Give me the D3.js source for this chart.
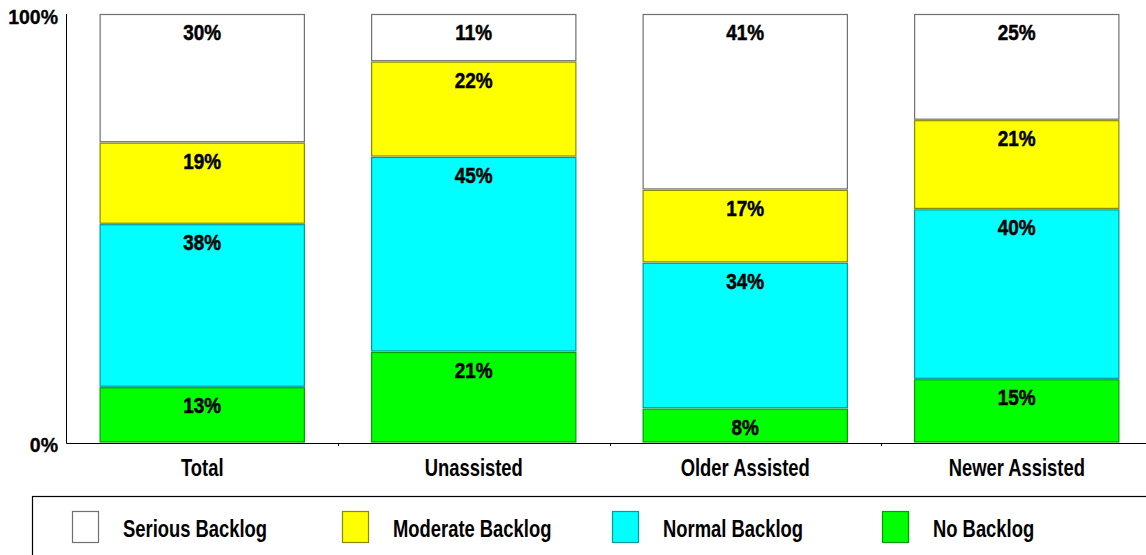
<!DOCTYPE html>
<html><head><meta charset="utf-8">
<script src="https://cdn.jsdelivr.net/npm/d3@7"></script>
<style>body{margin:0;background:#fff}svg{display:block}</style>
</head><body><svg id="c" width="1146" height="555"></svg>
<script>
const categories = ["Total", "Unassisted", "Older Assisted", "Newer Assisted"];
const seriesNames = ["No Backlog", "Normal Backlog", "Moderate Backlog", "Serious Backlog"];
const noBacklog = [13, 21, 8, 15];
const normalBacklog = [38, 45, 34, 40];
const moderateBacklog = [19, 22, 17, 21];
const seriousBacklog = [30, 11, 41, 25];
const yTicks = [0, 1];
const yTickLabels = ["0%", "100%"];
const legendOrder = ["Serious Backlog", "Moderate Backlog", "Normal Backlog", "No Backlog"];

const fills = {"No Backlog": "#00ff00", "Normal Backlog": "#00ffff", "Moderate Backlog": "#ffff00", "Serious Backlog": "#ffffff"};
const strokes = {"No Backlog": "#00a000", "Normal Backlog": "#009a9a", "Moderate Backlog": "#8a8a00", "Serious Backlog": "#707070"};

const rows = categories.map((c, i) => ({
  cat: c,
  "No Backlog": noBacklog[i],
  "Normal Backlog": normalBacklog[i],
  "Moderate Backlog": moderateBacklog[i],
  "Serious Backlog": seriousBacklog[i]
}));

const svg = d3.select("#c");
const x0 = 66.5, step = 271.5;
const x = d3.scaleBand().domain(categories).range([x0, x0 + step * 4]).paddingInner(0.244).paddingOuter(0.122);
const y = d3.scaleLinear().domain([0, 1]).range([443, 14]);

const stack = d3.stack().keys(seriesNames).offset(d3.stackOffsetExpand);
const layers = stack(rows);

const FONT = "'Liberation Sans', Arial, sans-serif";

// bars
const g = svg.append("g");
layers.forEach(layer => {
  const key = layer.key;
  g.selectAll(null).data(layer).enter().append("rect")
    .attr("x", d => x(d.data.cat) + 0.5)
    .attr("y", d => y(d[1]) + 0.5)
    .attr("width", x.bandwidth() - 1)
    .attr("height", d => Math.max(0, y(d[0]) - y(d[1]) - 1.5))
    .attr("fill", fills[key])
    .attr("stroke", strokes[key])
    .attr("stroke-width", 1.2);
});
// value labels
layers.forEach(layer => {
  const key = layer.key;
  g.selectAll(null).data(layer).enter().append("text")
    .attr("transform", d => `translate(${x(d.data.cat) + x.bandwidth() / 2},${y(d[1]) + 26}) scale(0.86,1)`)
    .attr("text-anchor", "middle")
    .attr("font-family", FONT)
    .attr("font-weight", "bold")
    .attr("font-size", 22)
    .attr("fill", "#000")
    .attr("stroke", "#000")
    .attr("stroke-width", 0.5)
    .text(d => d.data[key] + "%");
});

// axes lines
svg.append("line").attr("x1", x0).attr("x2", x0).attr("y1", 14).attr("y2", 443.5)
  .attr("stroke", "#000").attr("stroke-width", 1);
svg.append("line").attr("x1", x0).attr("x2", 1146).attr("y1", 443.5).attr("y2", 443.5)
  .attr("stroke", "#000").attr("stroke-width", 1.2);

// category boundary ticks
const bounds = categories.slice(1).map(c => x(c) - (x.step() - x.bandwidth()) / 2);
svg.selectAll(null).data(bounds).enter().append("line")
  .attr("x1", d => Math.round(d) + 0.5).attr("x2", d => Math.round(d) + 0.5)
  .attr("y1", 443).attr("y2", 446).attr("stroke", "#000");

// y tick labels
svg.selectAll(null).data(yTicks).enter().append("text")
  .attr("x", 58).attr("y", d => y(d) + (d === 0 ? 9 : 9.5))
  .attr("text-anchor", "end")
  .attr("font-family", FONT).attr("font-weight", "bold").attr("font-size", 19.5)
  .attr("stroke", "#000").attr("stroke-width", 0.3)
  .text((d, i) => yTickLabels[i]);

// category labels
svg.selectAll(null).data(categories).enter().append("text")
  .attr("transform", d => `translate(${x(d) + x.bandwidth() / 2},476) scale(0.8,1)`)
  .attr("text-anchor", "middle")
  .attr("font-family", FONT).attr("font-weight", "bold").attr("font-size", 23)
  .text(d => d);

// legend
svg.append("rect").attr("x", 32.5).attr("y", 496.5).attr("width", 1200).attr("height", 120)
  .attr("fill", "none").attr("stroke", "#000").attr("stroke-width", 1.2);
const lg = svg.selectAll(null).data(legendOrder).enter().append("g")
  .attr("transform", (d, i) => `translate(${72 + i * 270},0)`);
lg.append("rect").attr("x", 0.5).attr("y", 511.5).attr("width", 26).attr("height", 31)
  .attr("fill", d => fills[d]).attr("stroke", d => strokes[d]).attr("stroke-width", 1.2);
lg.append("text")
  .attr("transform", "translate(51,537) scale(0.8,1)")
  .attr("font-family", FONT).attr("font-weight", "bold").attr("font-size", 23)
  .text(d => d);
</script></body></html>
